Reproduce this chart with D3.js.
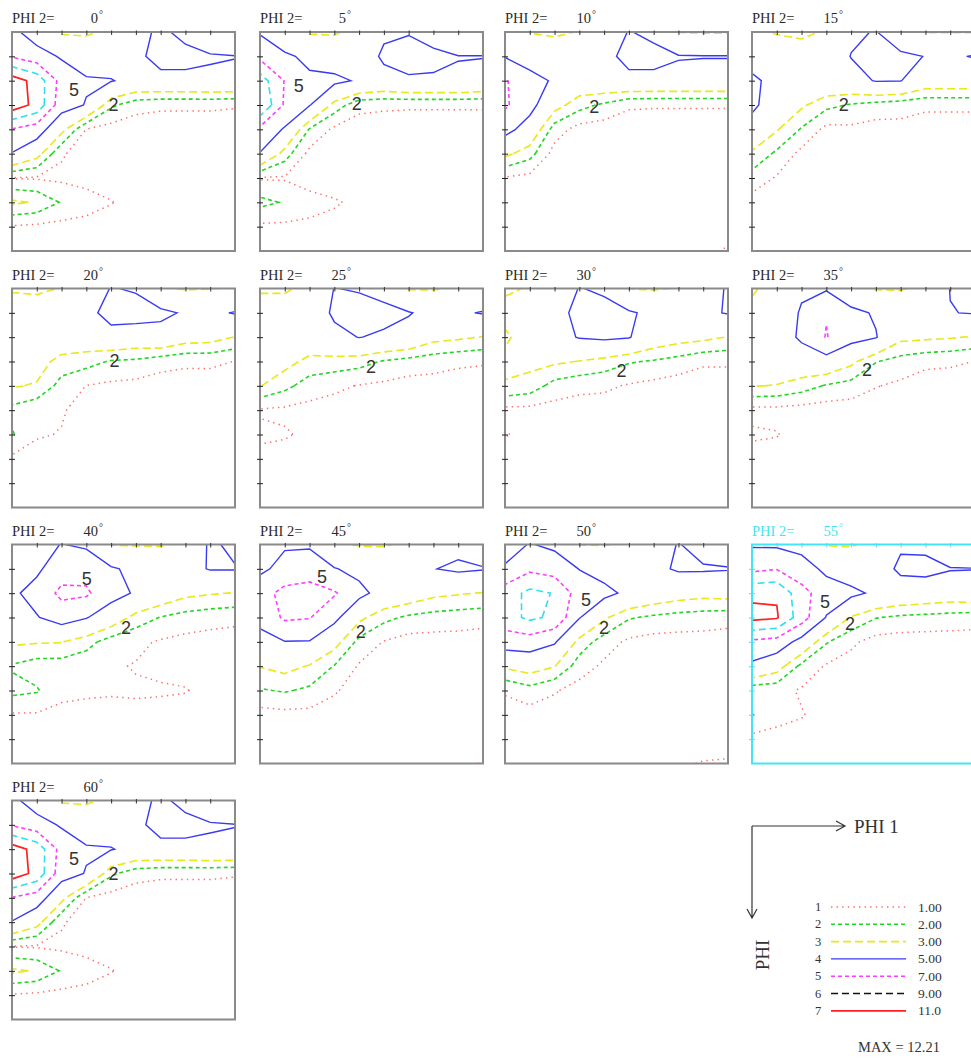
<!DOCTYPE html>
<html>
<head>
<meta charset="utf-8">
<script src="https://cdn.jsdelivr.net/npm/d3@7"></script>
<style>
  body { margin: 0; background: #fff; }
  svg { display: block; }
</style>
</head>
<body>
<div id="chart"></div>
<script>
// ODF sections, values on a 10 degree grid: rows = PHI 0..90, columns = phi1 0..90
const phi2Sections = [0, 5, 10, 15, 20, 25, 30, 35, 40, 45, 50, 55, 60];
const gridAngles = [0, 10, 20, 30, 40, 50, 60, 70, 80, 90];
const levels = [1, 2, 3, 5, 7, 9, 11];
const levelLabels = ["1.00", "2.00", "3.00", "5.00", "7.00", "9.00", "11.0"];
const maxText = "MAX = 12.21";
const tickValues = [10, 20, 30, 40, 50, 60, 70, 80];

const odf00 = [
  [5.5, 4.0, 2.8, 2.8, 3.3, 4.3, 5.4, 4.4, 3.2, 2.95],
  [6.8, 5.8, 4.8, 4.0, 3.9, 4.6, 5.6, 5.6, 5.2, 5.05],
  [12.0, 10.3, 6.2, 5.2, 5.1, 4.4, 4.5, 4.5, 4.6, 4.6],
  [12.2, 10.4, 5.8, 4.9, 2.2, 1.4, 1.2, 1.2, 1.2, 1.1],
  [6.9, 6.0, 3.4, 0.98, 0.6, 0.4, 0.4, 0.4, 0.4, 0.4],
  [4.9, 3.5, 1.1, 0.6, 0.4, 0.4, 0.4, 0.4, 0.4, 0.4],
  [0.95, 0.9, 0.8, 0.6, 0.5, 0.4, 0.4, 0.4, 0.4, 0.4],
  [3.2, 2.9, 1.9, 1.5, 1.05, 0.6, 0.4, 0.4, 0.4, 0.4],
  [0.9, 0.8, 0.7, 0.6, 0.5, 0.4, 0.4, 0.4, 0.4, 0.4],
  [0.5, 0.5, 0.5, 0.4, 0.4, 0.4, 0.4, 0.4, 0.4, 0.4]
];
const odf05 = [
  [4.8, 3.6, 2.85, 2.85, 3.4, 4.7, 4.9, 4.2, 3.1, 2.95],
  [6.5, 5.3, 4.6, 4.0, 3.9, 5.3, 5.6, 5.4, 5.05, 5.05],
  [10.0, 6.9, 5.3, 5.4, 4.8, 4.4, 4.8, 4.8, 4.8, 4.5],
  [11.05, 6.7, 5.1, 2.6, 1.3, 1.2, 1.15, 1.15, 1.15, 1.15],
  [6.5, 4.8, 1.9, 0.8, 0.5, 0.4, 0.4, 0.4, 0.4, 0.4],
  [4.9, 2.5, 0.7, 0.5, 0.4, 0.4, 0.4, 0.4, 0.4, 0.4],
  [0.9, 0.9, 0.6, 0.5, 0.4, 0.4, 0.4, 0.4, 0.4, 0.4],
  [2.3, 1.9, 1.35, 1.1, 0.8, 0.5, 0.4, 0.4, 0.4, 0.4],
  [0.8, 0.8, 0.8, 0.7, 0.5, 0.4, 0.4, 0.4, 0.4, 0.4],
  [0.5, 0.5, 0.5, 0.4, 0.4, 0.4, 0.4, 0.4, 0.4, 0.4]
];
const odf10 = [
  [4.0, 2.95, 2.8, 3.05, 3.6, 5.1, 4.5, 2.95, 2.9, 2.9],
  [4.9, 4.2, 3.8, 3.7, 4.4, 5.6, 5.6, 5.1, 5.05, 5.05],
  [7.2, 5.6, 4.8, 4.0, 4.3, 4.5, 4.5, 4.5, 4.5, 4.5],
  [7.3, 5.6, 3.5, 2.4, 1.8, 1.15, 1.1, 1.1, 1.1, 1.1],
  [5.6, 4.2, 1.5, 0.6, 0.5, 0.4, 0.4, 0.4, 0.4, 0.4],
  [3.3, 2.4, 0.6, 0.4, 0.4, 0.4, 0.4, 0.4, 0.4, 0.4],
  [0.9, 0.7, 0.5, 0.4, 0.4, 0.4, 0.4, 0.4, 0.4, 0.4],
  [0.5, 0.5, 0.4, 0.4, 0.4, 0.4, 0.4, 0.4, 0.4, 0.4],
  [0.4, 0.4, 0.4, 0.4, 0.4, 0.4, 0.4, 0.4, 0.5, 0.6],
  [0.4, 0.4, 0.4, 0.4, 0.4, 0.4, 0.4, 0.6, 0.8, 1.1]
];
const odf15 = [
  [3.3, 2.9, 2.8, 3.1, 4.7, 5.1, 3.4, 2.95, 2.95, 2.95],
  [4.3, 3.8, 3.5, 3.9, 5.05, 5.5, 5.4, 4.95, 4.8, 5.1],
  [5.3, 4.5, 3.8, 4.2, 4.4, 5.1, 5.05, 3.9, 3.9, 3.9],
  [5.3, 4.2, 3.2, 2.3, 1.9, 1.6, 1.4, 1.2, 1.2, 1.2],
  [4.4, 3.1, 1.9, 0.7, 0.8, 0.6, 0.7, 0.5, 0.5, 0.5],
  [2.8, 1.8, 0.7, 0.5, 0.4, 0.4, 0.4, 0.4, 0.4, 0.4],
  [1.6, 0.9, 0.6, 0.4, 0.4, 0.4, 0.4, 0.4, 0.4, 0.4],
  [0.6, 0.5, 0.4, 0.4, 0.4, 0.4, 0.4, 0.4, 0.4, 0.4],
  [0.4, 0.4, 0.4, 0.4, 0.4, 0.4, 0.4, 0.4, 0.4, 0.5],
  [0.4, 0.4, 0.4, 0.4, 0.4, 0.4, 0.4, 0.4, 0.7, 1.05]
];
const odf20 = [
  [2.9, 2.8, 3.05, 3.6, 5.1, 4.8, 3.1, 2.9, 2.95, 3.1],
  [3.5, 3.6, 3.8, 4.4, 5.7, 5.8, 5.4, 4.8, 4.7, 5.1],
  [3.9, 3.9, 4.0, 3.9, 4.3, 4.0, 4.3, 3.6, 3.5, 2.95],
  [3.8, 3.5, 2.6, 2.4, 1.9, 1.8, 1.4, 1.2, 1.2, 0.98],
  [3.1, 2.9, 1.6, 0.98, 0.8, 0.7, 0.5, 0.5, 0.5, 0.5],
  [1.7, 1.2, 1.1, 0.6, 0.4, 0.4, 0.4, 0.4, 0.4, 0.4],
  [2.1, 1.1, 0.95, 0.6, 0.4, 0.4, 0.4, 0.4, 0.4, 0.4],
  [0.8, 0.6, 0.5, 0.4, 0.4, 0.4, 0.4, 0.4, 0.4, 0.4],
  [0.4, 0.4, 0.4, 0.4, 0.4, 0.4, 0.4, 0.4, 0.4, 0.4],
  [0.4, 0.4, 0.4, 0.4, 0.4, 0.4, 0.4, 0.4, 0.4, 0.4]
];
const odf25 = [
  [2.9, 2.9, 3.2, 5.05, 4.8, 4.2, 2.9, 2.9, 3.2, 3.5],
  [3.4, 3.4, 3.8, 5.3, 5.9, 5.6, 5.1, 4.5, 4.8, 5.1],
  [3.6, 3.6, 3.9, 4.5, 5.05, 4.7, 4.4, 3.4, 3.2, 2.95],
  [3.4, 3.4, 2.7, 2.6, 2.4, 1.9, 1.6, 1.4, 1.2, 1.1],
  [3.05, 2.3, 1.5, 1.2, 0.95, 0.8, 0.6, 0.6, 0.5, 0.5],
  [0.9, 0.8, 0.7, 0.6, 0.5, 0.4, 0.4, 0.4, 0.4, 0.4],
  [1.2, 1.1, 0.8, 0.5, 0.4, 0.4, 0.4, 0.4, 0.4, 0.4],
  [0.7, 0.6, 0.5, 0.4, 0.4, 0.4, 0.4, 0.4, 0.4, 0.4],
  [0.4, 0.4, 0.4, 0.4, 0.4, 0.4, 0.4, 0.4, 0.4, 0.4],
  [0.4, 0.4, 0.4, 0.4, 0.4, 0.4, 0.4, 0.4, 0.4, 0.4]
];
const odf30 = [
  [2.9, 3.05, 3.3, 5.1, 4.6, 2.95, 2.9, 3.05, 4.0, 5.2],
  [3.2, 3.5, 4.2, 5.6, 5.8, 5.2, 4.6, 4.4, 4.7, 5.1],
  [2.9, 3.3, 4.4, 5.1, 5.3, 5.1, 3.9, 3.5, 3.3, 2.95],
  [3.15, 3.3, 3.2, 2.95, 2.6, 2.1, 1.9, 1.6, 1.2, 1.2],
  [2.95, 2.6, 1.6, 1.3, 1.2, 0.9, 0.7, 0.5, 0.3, 0.3],
  [0.7, 0.7, 0.6, 0.5, 0.5, 0.4, 0.4, 0.4, 0.4, 0.4],
  [1.05, 0.8, 0.5, 0.4, 0.4, 0.4, 0.4, 0.4, 0.4, 0.4],
  [0.6, 0.5, 0.4, 0.4, 0.4, 0.4, 0.4, 0.4, 0.4, 0.4],
  [0.4, 0.4, 0.4, 0.4, 0.4, 0.4, 0.4, 0.4, 0.4, 0.4],
  [0.4, 0.4, 0.4, 0.4, 0.4, 0.4, 0.4, 0.4, 0.4, 0.4]
];
const odf35 = [
  [2.9, 3.3, 4.7, 4.8, 3.4, 2.9, 2.9, 3.3, 5.05, 5.5],
  [3.2, 3.7, 5.2, 6.9, 5.5, 4.8, 4.2, 4.3, 4.95, 5.1],
  [3.3, 4.0, 5.3, 7.1, 5.6, 5.1, 3.3, 3.2, 3.1, 2.9],
  [3.3, 3.9, 4.0, 4.2, 3.3, 2.05, 1.6, 1.3, 1.2, 0.98],
  [3.05, 2.95, 2.5, 1.9, 1.6, 1.05, 0.8, 0.4, 0.4, 0.4],
  [0.7, 0.7, 0.6, 0.5, 0.5, 0.5, 0.4, 0.4, 0.4, 0.4],
  [1.15, 1.05, 0.6, 0.4, 0.4, 0.4, 0.4, 0.4, 0.4, 0.4],
  [0.6, 0.6, 0.4, 0.4, 0.4, 0.4, 0.4, 0.4, 0.4, 0.4],
  [0.4, 0.4, 0.4, 0.4, 0.4, 0.4, 0.4, 0.4, 0.4, 0.4],
  [0.4, 0.4, 0.4, 0.4, 0.4, 0.4, 0.4, 0.4, 0.4, 0.4]
];
const odf40 = [
  [4.0, 4.4, 5.05, 4.7, 2.95, 2.9, 2.9, 3.2, 5.3, 4.6],
  [4.5, 4.7, 6.0, 6.3, 5.2, 4.6, 4.3, 4.5, 5.1, 5.1],
  [4.7, 5.6, 7.5, 7.3, 5.7, 4.8, 4.0, 3.3, 3.1, 2.95],
  [4.3, 4.9, 5.8, 5.1, 3.9, 2.6, 1.95, 1.6, 1.4, 1.3],
  [3.2, 3.1, 3.05, 2.4, 1.5, 1.2, 0.9, 0.7, 0.6, 0.5],
  [1.9, 1.5, 1.5, 1.3, 1.1, 0.95, 0.8, 0.7, 0.5, 0.4],
  [2.3, 2.1, 1.2, 1.1, 1.1, 1.1, 1.1, 1.05, 0.7, 0.4],
  [0.9, 0.9, 0.8, 0.8, 0.7, 0.8, 0.7, 0.6, 0.5, 0.4],
  [0.5, 0.5, 0.4, 0.4, 0.4, 0.4, 0.4, 0.4, 0.4, 0.4],
  [0.4, 0.4, 0.4, 0.4, 0.4, 0.4, 0.4, 0.4, 0.4, 0.4]
];
const odf45 = [
  [4.0, 4.8, 4.7, 3.2, 2.9, 2.9, 3.2, 4.3, 4.5, 4.0],
  [4.6, 5.6, 6.3, 5.1, 4.5, 4.0, 4.1, 4.95, 5.3, 5.1],
  [6.2, 7.6, 7.6, 7.2, 5.5, 4.3, 3.9, 3.3, 3.1, 2.95],
  [5.6, 7.3, 7.1, 5.5, 3.3, 2.3, 1.8, 1.6, 1.5, 1.4],
  [4.3, 4.95, 4.9, 3.5, 1.7, 0.95, 0.6, 0.6, 0.6, 0.5],
  [3.05, 3.4, 2.9, 1.95, 0.9, 0.5, 0.4, 0.4, 0.4, 0.4],
  [1.9, 2.1, 1.8, 1.1, 0.6, 0.4, 0.4, 0.4, 0.4, 0.4],
  [0.6, 0.7, 0.7, 0.6, 0.4, 0.4, 0.4, 0.4, 0.4, 0.4],
  [0.4, 0.4, 0.4, 0.4, 0.4, 0.4, 0.4, 0.4, 0.4, 0.5],
  [0.4, 0.4, 0.4, 0.4, 0.4, 0.4, 0.4, 0.4, 0.8, 1.05]
];
const odf50 = [
  [4.2, 5.1, 4.6, 2.95, 2.95, 3.1, 4.0, 5.1, 4.2, 3.8],
  [5.2, 6.6, 6.1, 4.95, 4.3, 4.2, 4.6, 5.2, 5.2, 5.1],
  [8.0, 9.5, 8.9, 6.0, 5.5, 4.6, 4.0, 3.6, 3.4, 3.5],
  [8.2, 9.4, 8.6, 5.1, 3.2, 2.1, 1.8, 1.6, 1.5, 1.4],
  [5.9, 6.0, 5.2, 2.6, 1.5, 0.8, 0.6, 0.6, 0.6, 0.5],
  [3.2, 3.6, 3.05, 1.5, 0.8, 0.5, 0.4, 0.4, 0.4, 0.4],
  [1.1, 1.6, 1.1, 0.6, 0.4, 0.4, 0.4, 0.4, 0.4, 0.4],
  [0.6, 0.6, 0.5, 0.4, 0.4, 0.4, 0.4, 0.4, 0.4, 0.4],
  [0.4, 0.4, 0.4, 0.4, 0.4, 0.4, 0.4, 0.4, 0.6, 0.6],
  [0.4, 0.4, 0.4, 0.4, 0.4, 0.4, 0.4, 0.9, 1.05, 1.1]
];
const odf55 = [
  [4.8, 4.7, 4.4, 2.9, 2.9, 3.3, 4.8, 4.6, 3.3, 2.95],
  [6.5, 6.9, 5.8, 4.6, 4.0, 4.2, 5.3, 5.5, 5.1, 5.05],
  [10.6, 10.8, 7.7, 5.9, 5.4, 4.7, 4.2, 4.0, 3.8, 3.9],
  [11.6, 11.2, 7.9, 4.9, 2.9, 2.05, 1.8, 1.7, 1.6, 1.5],
  [6.6, 6.2, 4.3, 2.1, 1.2, 0.6, 0.5, 0.5, 0.5, 0.5],
  [4.6, 3.6, 1.7, 0.9, 0.6, 0.4, 0.4, 0.4, 0.4, 0.4],
  [1.3, 1.3, 0.9, 0.6, 0.4, 0.4, 0.4, 0.4, 0.4, 0.4],
  [2.05, 1.2, 1.05, 0.7, 0.4, 0.4, 0.4, 0.4, 0.4, 0.4],
  [0.7, 0.8, 0.7, 0.5, 0.4, 0.4, 0.4, 0.4, 0.4, 0.4],
  [0.4, 0.4, 0.4, 0.4, 0.4, 0.4, 0.4, 0.4, 0.4, 0.4]
];
// phi2 = 60 is the same section as phi2 = 0
const sections = [odf00, odf05, odf10, odf15, odf20, odf25, odf30, odf35, odf40, odf45, odf50, odf55, odf00];

// contour labels, [phi1, PHI] in degrees (null when not shown)
const label5 = [[25, 24], [15.6, 22], null, null, null, null, null, null, [30.2, 14], [25, 13.3], [32.7, 22.9], [29.5, 23.8], [25, 24]];
const label2 = [[41, 30], [39, 29.5], [36, 30.8], [37, 30], [41.4, 29.8], [44.8, 32.2], [47, 33.8], [46.4, 33.6], [46, 34.5], [40.7, 35.9], [40, 34.5], [39.6, 32.5], [41, 30]];
const highlighted = 55;

// line styles, one per level
const levelStyle = [
  { color: "#ff6a6a", dash: "1.4,4.2", width: 1.5 },
  { color: "#22d622", dash: "4,3", width: 1.6 },
  { color: "#e8e81a", dash: "8,4", width: 1.6 },
  { color: "#3a3af2", dash: null, width: 1.4 },
  { color: "#ff3cff", dash: "4,3", width: 1.6 },
  { color: "#2ee0ee", dash: "7,4", width: 1.6, legendColor: "#111" },
  { color: "#ff2020", dash: null, width: 1.7 }
];

const width = 971, height = 1059;
const colX = [12, 260, 505, 752];
const rowY = [32, 288.5, 544.5, 800.5];
const pw = 223, ph = 219;
const serif = "'Liberation Serif', 'DejaVu Serif', serif";
const sans = "'Liberation Sans', Arial, sans-serif";

const svg = d3.select("#chart").append("svg")
  .attr("width", width).attr("height", height)
  .style("background", "#fff");

const x = d3.scaleLinear().domain([0, 90]).range([0, pw]);
const y = d3.scaleLinear().domain([0, 90]).range([0, ph]);
const n = gridAngles.length;
const step = gridAngles[1] - gridAngles[0];

// grid cell coordinate -> degrees (d3.contours puts value i at i + 0.5)
const proj = d3.geoTransform({
  point(px, py) {
    this.stream.point(x((px - 0.5) * step), y((py - 0.5) * step));
  }
});
const path = d3.geoPath(proj);
const contourGen = d3.contours().size([n, n]).thresholds(levels);

sections.forEach((grid, i) => {
  const phi2 = phi2Sections[i];
  const frameColor = phi2 === highlighted ? "#44e4f4" : "#8a8a8a";
  const titleColor = phi2 === highlighted ? "#44e4f4" : "#2a2a2a";
  const g = svg.append("g")
    .attr("transform", `translate(${colX[i % 4]},${rowY[Math.floor(i / 4)]})`);

  g.append("clipPath").attr("id", `clip${i}`)
    .append("rect").attr("width", pw).attr("height", ph);

  const contours = contourGen(grid.flat());
  g.append("g").attr("clip-path", `url(#clip${i})`)
    .selectAll("path")
    .data(contours)
    .join("path")
    .attr("d", path)
    .attr("fill", "none")
    .attr("stroke", (d, k) => levelStyle[k].color)
    .attr("stroke-width", (d, k) => levelStyle[k].width)
    .attr("stroke-dasharray", (d, k) => levelStyle[k].dash);

  // contour labels
  [["5", label5[i]], ["2", label2[i]]].forEach(([t, pos]) => {
    if (!pos) return;
    g.append("text")
      .attr("x", x(pos[0])).attr("y", y(pos[1]))
      .attr("text-anchor", "middle").attr("dominant-baseline", "central")
      .attr("font-family", sans).attr("font-size", 18)
      .attr("fill", "#333").text(t);
  });

  // frame
  g.append("rect").attr("width", pw).attr("height", ph)
    .attr("fill", "none").attr("stroke", frameColor).attr("stroke-width", 2);

  // ticks on top and left edges
  const top = g.append("g").call(d3.axisTop(x).tickValues(tickValues).tickSize(2).tickFormat(""));
  top.select(".domain").remove();
  top.selectAll(".tick line").attr("y1", 3).attr("y2", -1.5)
    .attr("stroke", phi2 === highlighted ? frameColor : "#333");
  const left = g.append("g").call(d3.axisLeft(y).tickValues(tickValues).tickSize(3).tickFormat(""));
  left.select(".domain").remove();
  left.selectAll(".tick line").attr("x1", 3).attr("x2", -3)
    .attr("stroke", phi2 === highlighted ? frameColor : "#222");

  // title
  g.append("text").attr("x", 0).attr("y", -9)
    .attr("font-family", serif).attr("font-size", 14.5).attr("fill", titleColor)
    .text("PHI 2=");
  g.append("text").attr("x", 86).attr("y", -9)
    .attr("text-anchor", "end")
    .attr("font-family", serif).attr("font-size", 14.5).attr("fill", titleColor)
    .text(phi2);
  g.append("text").attr("x", 87).attr("y", -14)
    .attr("font-family", serif).attr("font-size", 10).attr("fill", titleColor)
    .text("°");
});

// axis key with arrows
const key = svg.append("g").attr("stroke", "#333").attr("stroke-width", 1.2).attr("fill", "none");
key.append("path").attr("d", "M752,826 H845 M836,821 L845,826 L836,831");
key.append("path").attr("d", "M752,826 V918 M747,909 L752,918 L757,909");
svg.append("text").attr("x", 854).attr("y", 833)
  .attr("font-family", serif).attr("font-size", 19).attr("fill", "#333").text("PHI 1");
svg.append("text").attr("transform", "translate(769,955) rotate(-90)")
  .attr("text-anchor", "middle")
  .attr("font-family", serif).attr("font-size", 19).attr("fill", "#333").text("PHI");

// level legend
const legend = svg.append("g");
levels.forEach((lv, k) => {
  const ly = 907 + k * 17.3;
  const st = levelStyle[k];
  legend.append("text").attr("x", 815).attr("y", ly)
    .attr("dominant-baseline", "central")
    .attr("font-family", serif).attr("font-size", 12.5).attr("fill", "#333").text(k + 1);
  legend.append("line").attr("x1", 831).attr("x2", 906).attr("y1", ly).attr("y2", ly)
    .attr("stroke", st.legendColor || st.color).attr("stroke-width", st.width)
    .attr("stroke-dasharray", st.dash);
  legend.append("text").attr("x", 918).attr("y", ly)
    .attr("dominant-baseline", "central")
    .attr("font-family", serif).attr("font-size", 13.5).attr("fill", "#333").text(levelLabels[k]);
});
svg.append("text").attr("x", 858).attr("y", 1052)
  .attr("font-family", serif).attr("font-size", 14.5).attr("fill", "#333").text(maxText);
</script>
</body>
</html>
